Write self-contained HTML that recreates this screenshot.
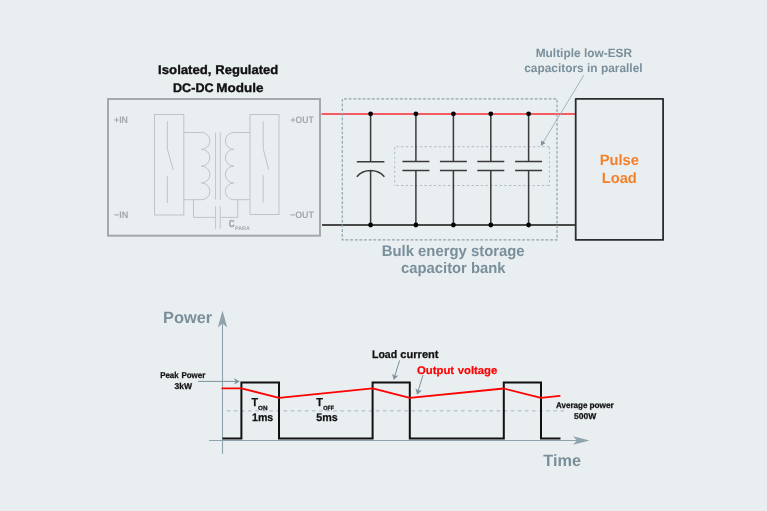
<!DOCTYPE html>
<html><head><meta charset="utf-8">
<style>
html,body{margin:0;padding:0;background:#e9eef1;}
body{width:767px;height:511px;overflow:hidden;}
svg{display:block;will-change:transform;text-rendering:geometricPrecision;font-family:"Liberation Sans",sans-serif;}
</style></head>
<body>
<svg width="767" height="511" viewBox="0 0 767 511">
<rect x="0" y="0" width="767" height="511" fill="#e9eef1"/>

<!-- ===== DC-DC module ===== -->
<g font-weight="bold" fill="#111" stroke="#111" stroke-width="0.35" text-anchor="middle">
<text text-anchor="start" x="158.11" y="73.9" font-size="12.6" textLength="53.42" lengthAdjust="spacingAndGlyphs">Isolated,</text><text text-anchor="start" x="215.32" y="73.9" font-size="12.6" textLength="62.97" lengthAdjust="spacingAndGlyphs">Regulated</text>
<text text-anchor="start" x="173.04" y="91.6" font-size="12.4" textLength="40.53" lengthAdjust="spacingAndGlyphs">DC-DC</text><text text-anchor="start" x="216.28" y="91.6" font-size="12.4" textLength="47.19" lengthAdjust="spacingAndGlyphs">Module</text>
</g>
<rect x="108" y="99" width="212" height="136.7" fill="none" stroke="#a5a9ab" stroke-width="2"/>
<g fill="none" stroke="#c0c4c6" stroke-width="1">
<rect x="154.5" y="114.5" width="29.3" height="100.5"/>
<rect x="250" y="114.5" width="29" height="100"/>
<path d="M167.3,121.2V149L173.2,170M167.3,176.2V203"/>
<path d="M263.2,121.3V148.7L268.7,169.8M263.2,175.2V202.6"/>
<path d="M184,132.5H201.5a8.4,8.4 0 0 1 0,16.8a8.4,8.4 0 0 1 0,16.8a8.4,8.4 0 0 1 0,16.8a8.4,8.4 0 0 1 0,16.8H184"/>
<path d="M250,132.5H233.8a8.4,8.4 0 0 0 0,16.8a8.4,8.4 0 0 0 0,16.8a8.4,8.4 0 0 0 0,16.8a8.4,8.4 0 0 0 0,16.8H250"/>
<path d="M215.6,132.5V199.7M220.2,132.5V199.7"/>
<path d="M193.5,199.7V217.4H215.6M220.2,217.4H237.8V199.7"/>
<path d="M215.6,206.1V228.7M220.2,206.1V228.7"/>
</g>
<g fill="#a4a8aa" font-size="9.4" font-weight="bold">
<text x="114" y="122.9" textLength="14" lengthAdjust="spacingAndGlyphs">+IN</text>
<text x="114" y="217.6" textLength="14.4" lengthAdjust="spacingAndGlyphs">&#8722;IN</text>
<text x="290.6" y="123.3" textLength="23.2" lengthAdjust="spacingAndGlyphs">+OUT</text>
<text x="290" y="217.6" textLength="23.8" lengthAdjust="spacingAndGlyphs">&#8722;OUT</text>
<text x="228.7" y="226.8" font-size="10.2" textLength="5.8" lengthAdjust="spacingAndGlyphs" fill="#a0a4a6" stroke="#a0a4a6" stroke-width="0.3">C</text>
<text x="234.9" y="230.3" font-size="5.5">PARA</text>
</g>

<!-- ===== wires ===== -->
<line x1="321.5" y1="114" x2="575" y2="114" stroke="#f45c62" stroke-width="1.9"/>
<line x1="322" y1="225" x2="575" y2="225" stroke="#484848" stroke-width="1.8"/>

<!-- dashed boxes -->
<path d="M342.3,98.9V239.9H557V98.9Z" fill="none" stroke="#91a4ae" stroke-width="1.2" stroke-dasharray="2.9 1.75"/>
<path d="M394.7,147.15V185.6M549.4,147V185.6M396.5,146.7H549.9M548.95,185.5H394.2" fill="none" stroke="#b1babf" stroke-width="1" stroke-dasharray="2.3 2.4"/>

<!-- capacitors -->
<g stroke="#3a3a3a" stroke-width="1.5" fill="none">
<path d="M370.6,113.8V161.7M356.8,161.7H384.4M370.6,170.3V225M356.8,176.7A18.7,18.7 0 0 1 384.4,176.7"/>
<path d="M415.9,113.8V161.6M415.9,170.5V225M402.4,161.6H429.4M402.4,170.5H429.4"/>
<path d="M453.4,113.8V161.6M453.4,170.5V225M439.9,161.6H466.9M439.9,170.5H466.9"/>
<path d="M490.8,113.8V161.6M490.8,170.5V225M477.3,161.6H504.3M477.3,170.5H504.3"/>
<path d="M528.6,113.8V161.6M528.6,170.5V225M515.1,161.6H542.1M515.1,170.5H542.1"/>
</g>
<g fill="#000">
<circle cx="370.6" cy="113.8" r="2.4"/><circle cx="415.9" cy="113.8" r="2.4"/><circle cx="453.4" cy="113.8" r="2.4"/><circle cx="490.8" cy="113.8" r="2.4"/><circle cx="528.6" cy="113.8" r="2.4"/>
<circle cx="370.6" cy="225" r="2.4"/><circle cx="415.9" cy="225" r="2.4"/><circle cx="453.4" cy="225" r="2.4"/><circle cx="490.8" cy="225" r="2.4"/><circle cx="528.6" cy="225" r="2.4"/>
</g>

<!-- labels -->
<g font-weight="bold" fill="#798f9b" text-anchor="middle">
<text x="583.9" y="57" font-size="12" textLength="96.4" lengthAdjust="spacingAndGlyphs">Multiple low-ESR</text>
<text x="583.4" y="71.8" font-size="12" textLength="118.3" lengthAdjust="spacingAndGlyphs">capacitors in parallel</text>
<text x="453.2" y="255.8" font-size="15.3" textLength="142.9" lengthAdjust="spacingAndGlyphs">Bulk energy storage</text>
<text x="453.3" y="273.4" font-size="15.2" textLength="104.6" lengthAdjust="spacingAndGlyphs">capacitor bank</text>
</g>
<line x1="584" y1="75" x2="543" y2="142.5" stroke="#9aacb4" stroke-width="0.9"/>
<path d="M540.9,146.1L541.2,140.4L545.5,143.1Z" fill="#7c929c"/>

<!-- Pulse load -->
<rect x="575.7" y="98.9" width="87.4" height="141" fill="none" stroke="#2b2c2e" stroke-width="1.8" stroke-linejoin="round"/>
<g font-weight="bold" fill="#f3802b" text-anchor="middle" font-size="15">
<text x="619.3" y="164.7" textLength="39.1" lengthAdjust="spacingAndGlyphs">Pulse</text>
<text x="619.3" y="183.4" textLength="35.1" lengthAdjust="spacingAndGlyphs">Load</text>
</g>

<!-- ===== Chart ===== -->
<g font-weight="bold" fill="#7a8f9a" font-size="16.4">
<text x="163.1" y="323.3" textLength="49.1" lengthAdjust="spacingAndGlyphs">Power</text>
<text x="543.3" y="465.8" textLength="37.7" lengthAdjust="spacingAndGlyphs">Time</text>
</g>
<g stroke="#8fa3ad" stroke-width="1.1" fill="none">
<line x1="222.5" y1="454" x2="222.5" y2="322"/>
<line x1="209" y1="440.5" x2="578" y2="440.5"/>
</g>
<g fill="#8fa3ad">
<path d="M222.5,310.5L227.2,327.4L222.5,323.5L217.8,327.4Z"/>
<path d="M589.5,440.5L573,444.8L577,440.5L573,436.2Z"/>
</g>
<line x1="226.8" y1="410.9" x2="565" y2="410.9" stroke="#a8b6bd" stroke-width="1" stroke-dasharray="3.5 3.6"/>
<path d="M222.5,438.4H241.4V382.6H279V438.4H372.6V382.6H409.8V438.4H503.8V382.6H541V438.4H560.5" fill="none" stroke="#111" stroke-width="2"/>
<path d="M222.3,388.4H241.4L279,397.8L372.6,388.4L409.8,397.9L503.8,388.5L541,397.9L559.7,395.9" fill="none" stroke="#fe0202" stroke-width="1.8" stroke-linecap="round" stroke-linejoin="round"/>

<!-- peak arrow -->
<line x1="198" y1="381.4" x2="236" y2="381.4" stroke="#7c929c" stroke-width="1"/>
<path d="M239.9,381.4L234,378.3L235.6,381.4L234,384.5Z" fill="#7c929c"/>
<!-- load current arrows -->
<line x1="399.6" y1="360.4" x2="394.8" y2="376" stroke="#7c929c" stroke-width="1"/>
<path d="M393.7,379.9L392.2,373.7L395,375.8L398.5,375.6Z" fill="#7c929c"/>
<line x1="423" y1="375" x2="418.1" y2="391" stroke="#7c929c" stroke-width="1"/>
<path d="M417.1,394.7L415.5,388.5L418.4,390.6L421.9,390.4Z" fill="#7c929c"/>

<g font-weight="bold" fill="#111" stroke="#111" stroke-width="0.25">
<text x="160.21" y="377.9" font-size="8.5" textLength="18.36" lengthAdjust="spacingAndGlyphs">Peak</text><text x="181.4" y="377.9" font-size="8.5" textLength="23.89" lengthAdjust="spacingAndGlyphs">Power</text>
<text x="174.4" y="388.9" font-size="8.5" textLength="17.6" lengthAdjust="spacingAndGlyphs">3kW</text>
<text x="251.4" y="405.8" font-size="11.6" textLength="6.6" lengthAdjust="spacingAndGlyphs">T</text>
<text x="258" y="409.7" font-size="6.1" textLength="9.5" lengthAdjust="spacingAndGlyphs">ON</text>
<text x="252" y="421" font-size="11" textLength="21.3" lengthAdjust="spacingAndGlyphs">1ms</text>
<text x="316.2" y="405.6" font-size="11.6" textLength="6.6" lengthAdjust="spacingAndGlyphs">T</text>
<text x="323.2" y="409.7" font-size="6.1" textLength="10.8" lengthAdjust="spacingAndGlyphs">OFF</text>
<text x="316.3" y="420.8" font-size="11" textLength="21.5" lengthAdjust="spacingAndGlyphs">5ms</text>
<text x="371.93" y="358.4" font-size="11" textLength="25.25" lengthAdjust="spacingAndGlyphs">Load</text><text x="400.38" y="358.4" font-size="11" textLength="38.14" lengthAdjust="spacingAndGlyphs">current</text>
<text x="556.12" y="407.7" font-size="8.5" textLength="31.23" lengthAdjust="spacingAndGlyphs">Average</text><text x="589.48" y="407.7" font-size="8.5" textLength="24.32" lengthAdjust="spacingAndGlyphs">power</text>
<text x="574" y="418.9" font-size="8.5" textLength="22.2" lengthAdjust="spacingAndGlyphs">500W</text>
</g>
<g font-size="11" font-weight="bold" fill="#fe0202" stroke="#fe0202" stroke-width="0.2"><text x="417.02" y="373.8" textLength="37.12" lengthAdjust="spacingAndGlyphs">Output</text><text x="457.75" y="373.8" textLength="39.54" lengthAdjust="spacingAndGlyphs">voltage</text></g>
</svg>
</body></html>
